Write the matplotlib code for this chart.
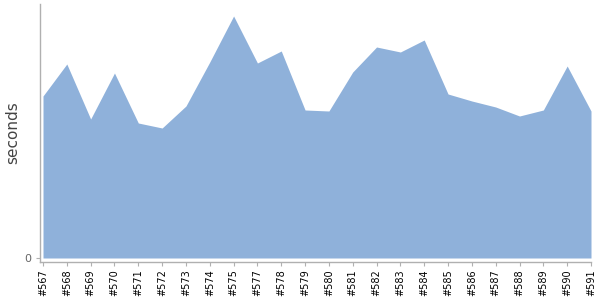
import matplotlib
matplotlib.use("Agg")
import matplotlib.pyplot as plt

builds = ["#567", "#568", "#569", "#570", "#571", "#572", "#573", "#574", "#575", "#577",
          "#578", "#579", "#580", "#581", "#582", "#583", "#584", "#585", "#586", "#587",
          "#588", "#589", "#590", "#591"]
seconds = [162, 194, 139, 185, 135, 130, 152, 196, 242, 195,
           207, 148, 147, 186, 211, 206, 218, 164, 157, 151,
           142, 148, 192, 147]

fig = plt.figure(figsize=(6, 3), dpi=100)
ax = fig.add_axes([40/600, 38/300, 551/600, 258/300])
x = list(range(len(builds)))
ax.fill_between(x, 0, seconds, color="#8fb1da", linewidth=0)
ax.set_xlim(-0.126, len(builds) - 1)
ax.set_ylim(-4, 254)
ax.set_xticks(x)
ax.set_xticklabels(builds, rotation=90, fontsize=7, color="black")
ax.set_yticks([0])
ax.set_yticklabels(["0"], fontsize=8, color="#666666")
for s in ["top", "right"]:
    ax.spines[s].set_visible(False)
for s in ["left", "bottom"]:
    ax.spines[s].set_color("#b0b0b0")
    ax.spines[s].set_linewidth(1)
ax.tick_params(axis="x", length=3, color="#b0b0b0", pad=2)
ax.tick_params(axis="y", length=3, color="#b0b0b0", pad=3)
ax.set_ylabel("seconds", fontsize=11, color="#444444", labelpad=3.5)
fig.savefig("out.png", dpi=100)
